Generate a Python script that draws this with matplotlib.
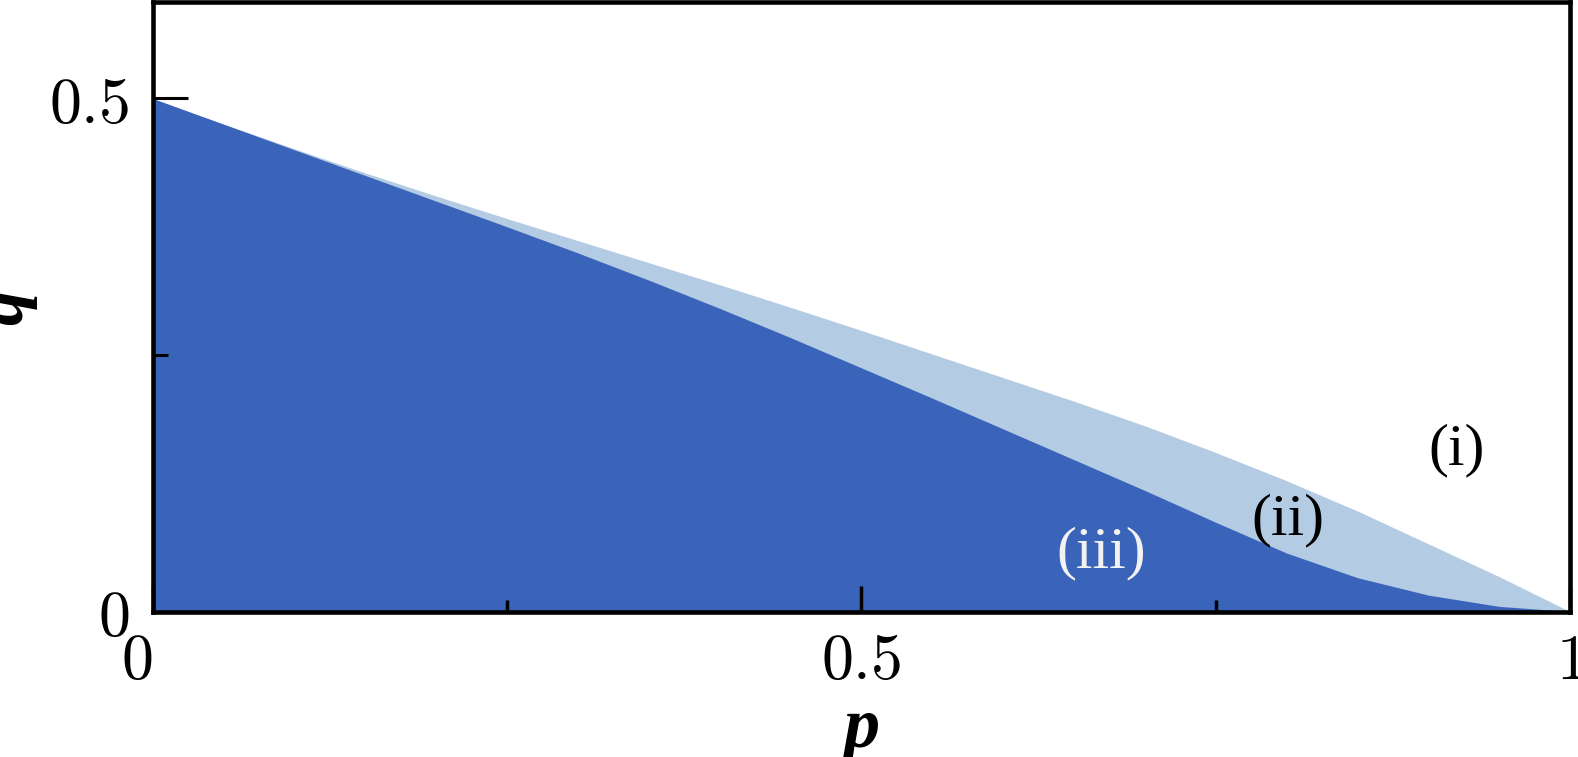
import numpy as np
import matplotlib
matplotlib.use("Agg")
import matplotlib.pyplot as plt

plt.rcParams['mathtext.fontset'] = 'cm'

# boundaries
p = [0, 0.05, 0.1, 0.15, 0.2, 0.25, 0.3, 0.35, 0.4, 0.45, 0.5,
     0.55, 0.6, 0.65, 0.7, 0.75, 0.8, 0.85, 0.9, 0.95, 1.0]
q_upper = [0.5, 0.475, 0.451, 0.4275, 0.405, 0.383, 0.3615, 0.340, 0.3185, 0.2965, 0.274,
           0.251, 0.228, 0.205, 0.181, 0.155, 0.1275, 0.098, 0.066, 0.034, 0.0]
q_lower = [0.5, 0.475, 0.45, 0.425, 0.4, 0.375, 0.3495, 0.323, 0.2955, 0.267, 0.2375,
           0.208, 0.178, 0.148, 0.118, 0.087, 0.057, 0.033, 0.016, 0.005, 0.0]

region_labels = ['(i)', '(ii)', '(iii)']
label_pos = [(0.92, 0.157), (0.801, 0.089), (0.669, 0.057)]
label_colors = ['black', 'black', '#f2f2f2']

dark = '#3a64b9'
light = '#b3cce4'

fig = plt.figure(figsize=(15.78, 7.57), dpi=100)
ax = fig.add_axes([152.5 / 1578, 1 - 611.5 / 757, (1570 - 152.5) / 1578, (611.5 - 2) / 757])

ax.fill_between(p, 0, q_upper, color=light, linewidth=0)
ax.fill_between(p, 0, q_lower, color=dark, linewidth=0)

for txt, (x, y), c in zip(region_labels, label_pos, label_colors):
    ax.text(x, y, txt, ha='center', va='center', color=c,
            family='Liberation Serif', fontsize=43)

ax.set_xlim(0, 1)
ax.set_ylim(0, 0.594)

ax.set_xticks([0, 0.5, 1])
ax.set_xticklabels(['$0$', '$0.5$', '$1$'])
ax.set_xticks([0.25, 0.75], minor=True)
ax.set_yticks([0, 0.5])
ax.set_yticklabels(['$0$', '$0.5$'])
ax.set_yticks([0.25], minor=True)

ax.tick_params(axis='x', which='major', direction='in', length=19, width=2.5, labelsize=46, pad=13)
ax.tick_params(axis='x', which='minor', direction='in', length=9, width=2.5)
ax.tick_params(axis='y', which='major', direction='in', length=25, width=2.2, labelsize=46, pad=17)
ax.tick_params(axis='y', which='minor', direction='in', length=11, width=2.2)

# the end labels sit a little left of their ticks in the reference
xl = ax.get_xticklabels()
xl[0].set_horizontalalignment('right')
xl[0].set_x(0.012)

for s in ax.spines.values():
    s.set_linewidth(3.3)

ax.set_xlabel('p', family='Liberation Serif', fontweight='bold', fontstyle='italic',
              fontsize=52, labelpad=4)
ax.set_ylabel('q', family='Liberation Serif', fontweight='bold', fontstyle='italic',
              fontsize=52, labelpad=8)

fig.savefig('out.png', dpi=100)
